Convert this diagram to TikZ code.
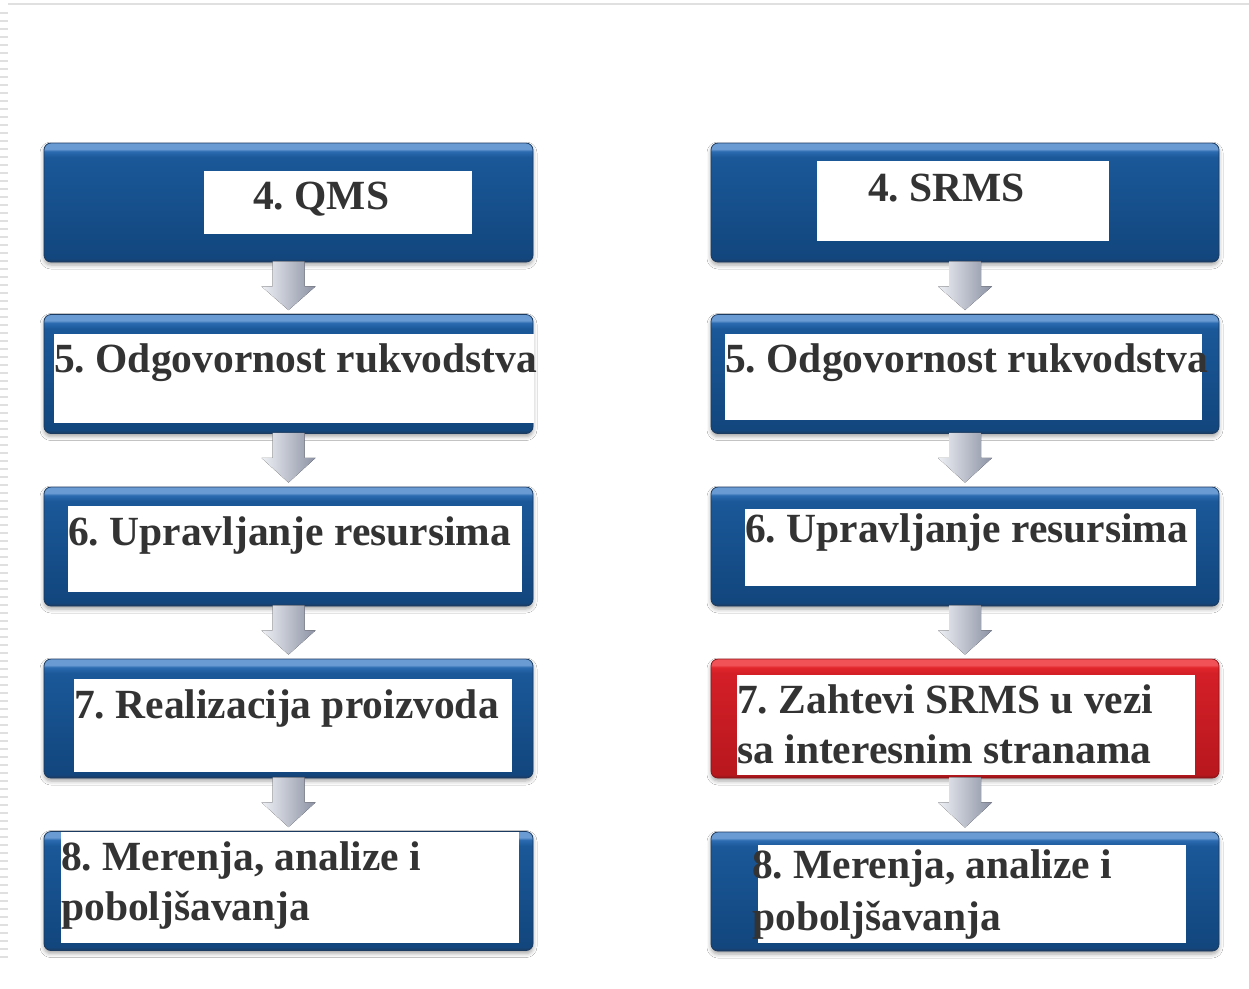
\documentclass[tikz,border=0pt]{standalone}
\usepackage{fontspec}
\setmainfont{Liberation Serif}
\usetikzlibrary{calc,shadows.blur}

\definecolor{blueTop}{HTML}{6A9BD3}
\definecolor{blueHigh}{HTML}{2C6BB0}
\definecolor{blueMid}{HTML}{1A5899}
\definecolor{blueLow}{HTML}{12467D}
\definecolor{blueDark}{HTML}{1C3B60}
\definecolor{redTop}{HTML}{F05257}
\definecolor{redHigh}{HTML}{E2262D}
\definecolor{redMid}{HTML}{D41F27}
\definecolor{redLow}{HTML}{B8171E}
\definecolor{redDark}{HTML}{8E1418}
\definecolor{arrowLight}{HTML}{EEF0F5}
\definecolor{arrowDark}{HTML}{8C92A4}

\pgfdeclareverticalshading{bluebar}{100bp}{color(0bp)=(blueDark); color(25bp)=(blueDark); color(26.5bp)=(blueLow); color(69bp)=(blueMid); color(71.5bp)=(blueHigh); color(72.5bp)=(blueTop); color(75bp)=(blueTop); color(100bp)=(blueTop)}
\pgfdeclareverticalshading{redbar}{100bp}{color(0bp)=(redDark); color(25bp)=(redDark); color(26.5bp)=(redLow); color(69bp)=(redMid); color(71.5bp)=(redHigh); color(72.5bp)=(redTop); color(75bp)=(redTop); color(100bp)=(redTop)}

\newcommand{\boxfont}{\fontsize{41.5}{50}\selectfont\bfseries\frenchspacing}

% block arrow from one bar down to the next
\newcommand{\flowarrow}[2]{%
  \fill[arrowfill] ($(#1.south)+(-16,-1)$) -- ($(#1.south)+(16,-1)$) -- ($(#1.south)+(16,24)$)
    -- ($(#1.south)+(27,24)$) -- ($(#2.north)+(0,-4)$) -- ($(#1.south)+(-27,24)$)
    -- ($(#1.south)+(-16,24)$) -- cycle;}

\tikzset{
  stepbar/.style={rounded corners=7pt, shading=bluebar, draw=blueDark, line width=0.8pt,
    minimum height=119pt, inner sep=0pt,
    blur shadow={shadow xshift=0pt, shadow yshift=-3pt, shadow blur radius=4pt, shadow opacity=35}},
  leftbar/.style={stepbar, minimum width=489pt},
  rightbar/.style={stepbar, minimum width=508pt},
  redbar/.style={rightbar, shading=redbar, draw=redDark},
  whitebox/.style={fill=white, inner sep=0pt},
  steptext/.style={font=\boxfont, text=black!80, inner sep=0pt, anchor=base west},
  arrowfill/.style={left color=arrowLight, right color=arrowDark}
}

\begin{document}
\begin{tikzpicture}[x=1pt,y=-1pt]
\useasboundingbox[fill=white] (0,0) rectangle (1249,988);
\draw[black!12, line width=2pt] (8,4) -- (1249,4);
\draw[black!12, line width=7pt, dash pattern=on 1.5pt off 6.5pt] (4,12) -- (4,960);
%
% left column: QMS
\node[leftbar] (q1) at (288.5,202.5) {};
\node[leftbar] (q2) at (288.5,374) {};
\node[leftbar] (q3) at (288.5,546.5) {};
\node[leftbar] (q4) at (288.5,718.5) {};
\node[leftbar] (q5) at (288.5,891) {};
\node[whitebox, minimum width=268pt, minimum height=63pt] (qw1) at (338,202.5) {};
\node[whitebox, minimum width=480pt, minimum height=89pt] (qw2) at (294,378.5) {};
\node[whitebox, minimum width=454pt, minimum height=86pt] (qw3) at (295,549) {};
\node[whitebox, minimum width=438pt, minimum height=93pt] (qw4) at (293,725.5) {};
\node[whitebox, minimum width=458pt, minimum height=111pt] (qw5) at (290,887.5) {};
\node[steptext] (qt1) at (253,209) {4. QMS};
\node[steptext] (qt2) at (54,372) {5. Odgovornost rukvodstva};
\node[steptext] (qt3) at (68,545) {6. Upravljanje resursima};
\node[steptext] (qt4) at (74,718) {7. Realizacija proizvoda};
\node[steptext] (qt5a) at (61,870) {8. Merenja, analize i};
\node[steptext] (qt5b) at (61,920) {poboljšavanja};
%
% right column: SRMS
\node[rightbar] (s1) at (965,202.5) {};
\node[rightbar] (s2) at (965,374) {};
\node[rightbar] (s3) at (965,546.5) {};
\node[redbar] (s4) at (965,718.5) {};
\node[rightbar] (s5) at (965,891.5) {};
\node[whitebox, minimum width=292pt, minimum height=80pt] (sw1) at (963,201) {};
\node[whitebox, minimum width=477pt, minimum height=86pt] (sw2) at (963.5,377) {};
\node[whitebox, minimum width=451pt, minimum height=77pt] (sw3) at (970.5,547.5) {};
\node[whitebox, minimum width=458pt, minimum height=100pt] (sw4) at (966,725) {};
\node[whitebox, minimum width=428pt, minimum height=98pt] (sw5) at (972,894) {};
\node[steptext] (st1) at (868,201) {4. SRMS};
\node[steptext] (st2) at (725,372) {5. Odgovornost rukvodstva};
\node[steptext] (st3) at (745,542) {6. Upravljanje resursima};
\node[steptext] (st4a) at (737,713) {7. Zahtevi SRMS u vezi};
\node[steptext] (st4b) at (737,763) {sa interesnim stranama};
\node[steptext] (st5a) at (752,878) {8. Merenja, analize i};
\node[steptext] (st5b) at (752,930) {poboljšavanja};
%
\flowarrow{q1}{q2}
\flowarrow{q2}{q3}
\flowarrow{q3}{q4}
\flowarrow{q4}{q5}
\flowarrow{s1}{s2}
\flowarrow{s2}{s3}
\flowarrow{s3}{s4}
\flowarrow{s4}{s5}
\end{tikzpicture}
\end{document}
